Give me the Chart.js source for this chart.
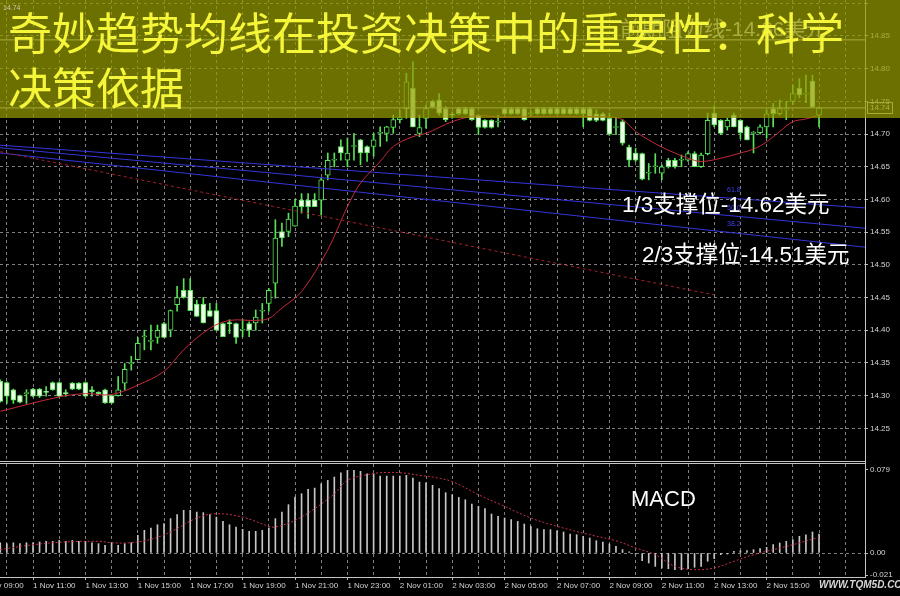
<!DOCTYPE html>
<html>
<head>
<meta charset="utf-8">
<script src="https://cdn.jsdelivr.net/npm/chart.js@4.4.1/dist/chart.umd.min.js"></script>
<style>
  html, body { margin: 0; padding: 0; background: #000; }
  #wrap { position: relative; width: 900px; height: 596px; overflow: hidden; background: #000; }
  #price { position: absolute; left: 0; top: 0; }
  #macd { position: absolute; left: 0; top: 464px; }
</style>
</head>
<body>
<div id="wrap">
  <canvas id="price" width="900" height="464"></canvas>
  <canvas id="macd" width="900" height="132"></canvas>
</div>
<script>
/* M15 candles, index 0 = 1 Nov 09:45 */
const opens = [14.322,14.320,14.309,14.300,14.303,14.310,14.310,14.306,14.320,14.320,
  14.304,14.319,14.319,14.320,14.309,14.305,14.309,14.300,14.300,14.319,
  14.349,14.355,14.390,14.383,14.389,14.410,14.400,14.439,14.461,14.461,
  14.440,14.440,14.430,14.430,14.410,14.411,14.410,14.400,14.410,14.411,
  14.429,14.441,14.472,14.551,14.551,14.559,14.599,14.599,14.599,14.599,
  14.637,14.660,14.681,14.660,14.681,14.691,14.681,14.681,14.701,14.701,
  14.710,14.722,14.739,14.770,14.701,14.724,14.750,14.752,14.739,14.730,
  14.739,14.739,14.739,14.729,14.721,14.721,14.718,14.739,14.739,14.739,
  14.739,14.731,14.739,14.739,14.739,14.739,14.739,14.739,14.739,14.739,
  14.739,14.731,14.731,14.724,14.710,14.719,14.680,14.671,14.670,14.640,
  14.650,14.640,14.660,14.660,14.660,14.660,14.670,14.650,14.670,14.732,
  14.721,14.711,14.729,14.721,14.711,14.701,14.702,14.711,14.739,14.731,
  14.737,14.750,14.770,14.761,14.781,14.729];
const highs = [14.324,14.321,14.310,14.301,14.309,14.311,14.311,14.314,14.321,14.321,
  14.309,14.320,14.320,14.321,14.314,14.306,14.310,14.301,14.329,14.349,
  14.360,14.389,14.400,14.408,14.408,14.412,14.431,14.467,14.479,14.479,
  14.446,14.450,14.441,14.441,14.411,14.416,14.411,14.416,14.413,14.431,
  14.441,14.464,14.569,14.564,14.579,14.600,14.609,14.609,14.609,14.633,
  14.671,14.671,14.691,14.694,14.701,14.692,14.682,14.701,14.711,14.712,
  14.729,14.737,14.793,14.811,14.729,14.744,14.752,14.762,14.742,14.734,
  14.741,14.741,14.741,14.730,14.722,14.722,14.729,14.741,14.741,14.741,
  14.741,14.736,14.741,14.741,14.741,14.741,14.741,14.741,14.741,14.741,
  14.741,14.737,14.733,14.732,14.724,14.722,14.683,14.678,14.671,14.655,
  14.670,14.653,14.663,14.663,14.668,14.673,14.673,14.671,14.732,14.743,
  14.722,14.724,14.732,14.722,14.712,14.704,14.714,14.737,14.747,14.752,
  14.750,14.775,14.785,14.790,14.790,14.742];
const lows = [14.290,14.288,14.288,14.289,14.288,14.298,14.297,14.299,14.308,14.298,
  14.299,14.309,14.309,14.298,14.299,14.302,14.288,14.288,14.299,14.309,
  14.339,14.355,14.370,14.370,14.380,14.389,14.390,14.429,14.449,14.430,
  14.421,14.411,14.421,14.400,14.390,14.395,14.380,14.390,14.390,14.400,
  14.411,14.429,14.449,14.528,14.543,14.559,14.579,14.571,14.589,14.576,
  14.630,14.650,14.660,14.650,14.660,14.653,14.658,14.666,14.681,14.689,
  14.701,14.717,14.724,14.711,14.696,14.709,14.740,14.729,14.719,14.724,
  14.730,14.730,14.721,14.699,14.709,14.709,14.711,14.730,14.730,14.730,
  14.721,14.727,14.730,14.730,14.730,14.730,14.730,14.730,14.730,14.711,
  14.720,14.719,14.720,14.698,14.699,14.683,14.650,14.658,14.630,14.630,
  14.640,14.630,14.648,14.648,14.650,14.658,14.650,14.649,14.668,14.711,
  14.699,14.706,14.711,14.693,14.691,14.671,14.700,14.694,14.711,14.729,
  14.722,14.745,14.755,14.748,14.741,14.711];
const closes = [14.291,14.299,14.293,14.290,14.304,14.299,14.299,14.305,14.309,14.299,
  14.303,14.310,14.310,14.299,14.306,14.303,14.289,14.289,14.309,14.340,
  14.350,14.380,14.391,14.384,14.400,14.389,14.430,14.450,14.450,14.430,
  14.421,14.411,14.421,14.400,14.390,14.410,14.389,14.401,14.400,14.420,
  14.430,14.461,14.541,14.541,14.570,14.590,14.589,14.589,14.589,14.630,
  14.660,14.661,14.671,14.671,14.682,14.671,14.671,14.691,14.702,14.711,
  14.722,14.725,14.780,14.711,14.710,14.739,14.741,14.732,14.722,14.729,
  14.731,14.731,14.722,14.710,14.710,14.710,14.719,14.731,14.731,14.731,
  14.722,14.732,14.731,14.731,14.731,14.731,14.731,14.731,14.731,14.731,
  14.721,14.721,14.721,14.700,14.711,14.686,14.660,14.660,14.631,14.641,
  14.651,14.650,14.650,14.650,14.661,14.670,14.650,14.668,14.721,14.714,
  14.701,14.721,14.711,14.702,14.691,14.702,14.711,14.731,14.731,14.739,
  14.738,14.762,14.760,14.762,14.741,14.740];

/* moving average (candle index, price) */
const maIdx  = [0, 9, 13, 16, 18, 21, 25, 28, 32, 35, 39, 41, 43, 46, 50, 53, 55, 58, 60, 63, 65, 67,
  69, 72, 74, 76, 84, 93, 95, 97, 99, 101, 103, 105, 107, 110, 113, 115, 117, 119, 121, 123, 125];
const maVals = [14.276, 14.298, 14.303, 14.301, 14.304, 14.316, 14.337, 14.370, 14.403, 14.415, 14.415,
  14.418, 14.434, 14.459, 14.523, 14.589, 14.625, 14.658, 14.681, 14.696, 14.701, 14.710, 14.719,
  14.727, 14.728, 14.726, 14.727, 14.726, 14.722, 14.704, 14.691, 14.680, 14.671, 14.663, 14.658,
  14.663, 14.671, 14.677, 14.688, 14.704, 14.719, 14.723, 14.729];

/* drawn objects */
const fibLevels = ['61.8', '50.0', '38.2'];
const fibStart = [14.683, 14.679, 14.671];
const fibEnd   = [14.587, 14.556, 14.527];
const trendIdx = [0, 109];
const trendVals = [14.673, 14.454];
const bidPrice = 14.74;
const resistPrice = 14.844;
const resistText = '前期阻力线-14.86美元';
const supportLabels = ['1/3支撑位-14.62美元', '2/3支撑位-14.51美元'];
const titleLines = ['奇妙趋势均线在投资决策中的重要性：科学', '决策依据'];

/* MACD window */
const macdHist = [.0098,.0089,.0098,.0089,.0098,.0098,.0105,.0111,.0111,.0120,
  .0111,.0120,.0111,.0111,.0098,.0089,.0073,.0098,.0073,.0089,
  .0098,.0168,.0216,.0238,.0269,.0279,.0327,.0365,.0406,.0406,
  .0390,.0384,.0365,.0342,.0301,.0269,.0247,.0225,.0206,.0206,
  .0216,.0238,.0327,.0390,.0460,.0533,.0564,.0605,.0618,.0659,
  .0691,.0723,.0764,.0786,.0786,.0777,.0754,.0754,.0732,.0732,
  .0732,.0732,.0739,.0713,.0675,.0669,.0644,.0612,.0574,.0555,
  .0529,.0507,.0466,.0444,.0422,.0371,.0349,.0333,.0317,.0301,
  .0276,.0254,.0231,.0222,.0222,.0212,.0200,.0181,.0174,.0159,
  .0143,.0117,.0105,.0086,.0063,.0032,.0010,-.0010,-.0073,-.0095,
  -.0127,-.0143,-.0149,-.0159,-.0159,-.0149,-.0136,-.0127,-.0079,-.0054,
  -.0016,-.0010,.0016,.0022,.0022,.0032,.0041,.0054,.0079,.0095,
  .0111,.0127,.0159,.0174,.0200,.0181];
const signalIdx  = [0, 5, 10, 15, 17, 20, 23, 26, 30, 33, 37, 41, 42, 45, 48, 51, 53, 56, 58, 61, 64, 66,
  69, 73, 77, 81, 85, 90, 94, 97, 100, 103, 106, 109, 112, 115, 118, 121, 125];
const signalVals = [.0032, .0079, .0105, .0111, .0098, .0098, .0130, .0200, .0333, .0374, .0342, .0254,
  .0247, .0311, .0422, .0564, .0691, .0745, .0764, .0764, .0739, .0723, .0680, .0555, .0444, .0333,
  .0254, .0174, .0117, .0048, -.0016, -.0127, -.0159, -.0143, -.0079, -.0016, .0032, .0079, .0149];

/* axes */
const priceTicks = [14.25, 14.30, 14.35, 14.40, 14.45, 14.50, 14.55, 14.60, 14.65, 14.70, 14.75, 14.80, 14.85, 14.90];
const macdTicks = [-0.021, 0, 0.079];
const timeTickIdx = [-3, 5, 13, 21, 29, 37, 45, 53, 61, 69, 77, 85, 93, 101, 109, 117];
const timeTickText = ['1 Nov 09:00', '1 Nov 11:00', '1 Nov 13:00', '1 Nov 15:00', '1 Nov 17:00',
  '1 Nov 19:00', '1 Nov 21:00', '1 Nov 23:00', '2 Nov 01:00', '2 Nov 03:00', '2 Nov 05:00',
  '2 Nov 07:00', '2 Nov 09:00', '2 Nov 11:00', '2 Nov 13:00', '2 Nov 15:00'];

const X_MIN = -0.04, X_MAX = 132.02;
const GRID = 'rgba(170,170,170,0.75)';
const FRAME = '#c4c4c4';
const CANDLE = '#58e258';
const LBL = '#d4d4d4';
const SANS = '"Liberation Sans", "Noto Sans CJK SC", sans-serif';

// vertical grid every hour (4 candles)
const gridIdx = [];
for (let i = 1; i <= 129; i += 4) gridIdx.push(i);

Chart.defaults.font.family = SANS;

const xy = (xs, ys) => xs.map((x, k) => ({ x: x, y: ys[k] }));
const hline = v => [{ x: X_MIN, y: v }, { x: X_MAX, y: v }];

/* price window decorations */
const priceDeco = {
  id: 'priceDeco',
  afterDatasetsDraw(chart) {
    const ctx = chart.ctx, a = chart.chartArea, sx = chart.scales.x, sy = chart.scales.y;
    ctx.save();
    ctx.strokeStyle = FRAME;
    ctx.lineWidth = 1;
    ctx.beginPath();
    ctx.moveTo(a.right + 0.5, 0); ctx.lineTo(a.right + 0.5, 464);
    ctx.moveTo(0, 461.5); ctx.lineTo(a.right + 1, 461.5);
    ctx.moveTo(0, 463.5); ctx.lineTo(a.right + 1, 463.5);
    ctx.stroke();

    // faded resistance caption
    ctx.fillStyle = '#dcdcdc';
    ctx.font = '21px ' + SANS;
    ctx.textBaseline = 'middle';
    ctx.fillText(resistText, 620, 30);

    // bid price box
    const yb = Math.round(sy.getPixelForValue(bidPrice));
    ctx.strokeStyle = '#cfcfcf';
    ctx.strokeRect(a.right + 2.5, yb - 5.5, 25, 11);
    ctx.fillStyle = '#e0e0e0';
    ctx.font = '8px ' + SANS;
    ctx.fillText('14.74', a.right + 5, yb);

    // fibonacci level tags
    ctx.fillStyle = '#4040e8';
    ctx.font = '7px ' + SANS;
    const x0 = sx.getPixelForValue(X_MIN), x1 = sx.getPixelForValue(X_MAX);
    fibLevels.forEach((t, k) => {
      const y0 = sy.getPixelForValue(fibStart[k]), y1 = sy.getPixelForValue(fibEnd[k]);
      const ly = y0 + (y1 - y0) * (730 - x0) / (x1 - x0);
      ctx.fillText(t, 727, ly - 8);
    });
    ctx.restore();
  },
  afterDraw(chart) {
    const ctx = chart.ctx;
    ctx.save();
    ctx.fillStyle = 'rgba(150,155,0,0.72)';
    ctx.fillRect(0, 0, 900, 118);

    ctx.fillStyle = '#c8c8b0';
    ctx.font = '7px ' + SANS;
    ctx.textBaseline = 'middle';
    ctx.fillText('14.74', 3, 8);

    ctx.fillStyle = '#f5f53a';
    ctx.font = '44px "Noto Sans CJK SC", sans-serif';
    ctx.fillText(titleLines[0], 8, 33);
    ctx.fillText(titleLines[1], 8, 88);

    ctx.fillStyle = '#ffffff';
    ctx.font = '22.5px ' + SANS;
    ctx.fillText(supportLabels[0], 622, 206);
    ctx.fillText(supportLabels[1], 642, 256);
    ctx.restore();
  }
};

new Chart(document.getElementById('price'), {
  type: 'bar',
  data: {
    datasets: [
      {
        label: 'wick', order: 3, grouped: false, barThickness: 1,
        data: opens.map((o, i) => ({ x: i, y: [lows[i], highs[i]] })),
        backgroundColor: CANDLE
      },
      {
        label: 'body', order: 2, grouped: false, barThickness: 5, minBarLength: 1,
        data: opens.map((o, i) => ({ x: i, y: [o, closes[i]] })),
        backgroundColor: opens.map((o, i) => closes[i] >= o ? '#000000' : '#ecffe6'),
        borderColor: CANDLE, borderWidth: 1, borderSkipped: false
      },
      {
        type: 'line', label: 'MA', order: 1, data: xy(maIdx, maVals),
        borderColor: '#c8283c', borderWidth: 1, pointRadius: 0, tension: 0.35
      },
      {
        type: 'line', label: 'trend', order: 1, data: xy(trendIdx, trendVals),
        borderColor: '#a8202c', borderWidth: 1, borderDash: [3, 3], pointRadius: 0
      },
      {
        type: 'line', label: 'fib1', order: 1, data: [{ x: X_MIN, y: fibStart[0] }, { x: X_MAX, y: fibEnd[0] }],
        borderColor: '#3434dc', borderWidth: 1, pointRadius: 0
      },
      {
        type: 'line', label: 'fib2', order: 1, data: [{ x: X_MIN, y: fibStart[1] }, { x: X_MAX, y: fibEnd[1] }],
        borderColor: '#3434dc', borderWidth: 1, pointRadius: 0
      },
      {
        type: 'line', label: 'fib3', order: 1, data: [{ x: X_MIN, y: fibStart[2] }, { x: X_MAX, y: fibEnd[2] }],
        borderColor: '#3434dc', borderWidth: 1, pointRadius: 0
      },
      {
        type: 'line', label: 'bid', order: 1, data: hline(bidPrice),
        borderColor: '#c8c8c8', borderWidth: 1, pointRadius: 0
      },
      {
        type: 'line', label: 'resist', order: 1, data: hline(resistPrice),
        borderColor: '#d8d8d8', borderWidth: 1, pointRadius: 0
      }
    ]
  },
  options: {
    responsive: false, animation: false, devicePixelRatio: 1, events: [],
    layout: { padding: 0 },
    plugins: { legend: { display: false }, tooltip: { enabled: false }, title: { display: false } },
    scales: {
      x: {
        type: 'linear', min: X_MIN, max: X_MAX, offset: false,
        afterBuildTicks: s => { s.ticks = gridIdx.map(v => ({ value: v })); },
        afterFit: s => { s.height = 3; s.paddingLeft = 0; s.paddingRight = 0; },
        ticks: { display: false },
        grid: { color: GRID, drawTicks: false, offset: false },
        border: { display: false, dash: [3, 3] }
      },
      y: {
        position: 'right', min: 14.20, max: 14.905, beginAtZero: false,
        afterBuildTicks: s => { s.ticks = priceTicks.map(v => ({ value: v })); },
        afterFit: s => { s.width = 35; s.paddingTop = 0; s.paddingBottom = 0; },
        ticks: {
          color: LBL, padding: 2, font: { size: 8 },
          callback: v => v > 14.87 ? '' : v.toFixed(2)
        },
        grid: { color: GRID, tickColor: '#bdbdbd', tickLength: 3 },
        border: { display: false, dash: [3, 3] }
      }
    }
  },
  plugins: [priceDeco]
});

/* MACD window decorations */
const macdDeco = {
  id: 'macdDeco',
  afterDraw(chart) {
    const ctx = chart.ctx, a = chart.chartArea;
    ctx.save();
    ctx.strokeStyle = FRAME;
    ctx.lineWidth = 1;
    ctx.beginPath();
    ctx.moveTo(a.right + 0.5, 0); ctx.lineTo(a.right + 0.5, a.bottom + 1);
    ctx.moveTo(0, a.bottom + 0.5); ctx.lineTo(a.right + 1, a.bottom + 0.5);
    ctx.stroke();

    ctx.fillStyle = '#ffffff';
    ctx.font = '22px ' + SANS;
    ctx.textBaseline = 'middle';
    ctx.fillText('MACD', 631, 36);

    ctx.fillStyle = '#d8d8d8';
    ctx.font = 'italic bold 10px ' + SANS;
    ctx.fillText('WWW.TQM5D.COM', 819, 121);
    ctx.restore();
  }
};

new Chart(document.getElementById('macd'), {
  type: 'bar',
  data: {
    datasets: [
      {
        label: 'MACD', order: 2, grouped: false, barThickness: 1,
        data: macdHist.map((v, i) => ({ x: i, y: v })),
        backgroundColor: '#c6c6c6'
      },
      {
        type: 'line', label: 'Signal', order: 1, data: xy(signalIdx, signalVals),
        borderColor: '#c8304c', borderWidth: 1, borderDash: [2, 2], pointRadius: 0, tension: 0.35
      }
    ]
  },
  options: {
    responsive: false, animation: false, devicePixelRatio: 1, events: [],
    layout: { padding: 0 },
    plugins: { legend: { display: false }, tooltip: { enabled: false }, title: { display: false } },
    scales: {
      x: {
        type: 'linear', min: X_MIN, max: X_MAX, offset: false,
        afterBuildTicks: s => {
          s.ticks = [-3].concat(gridIdx).map(v => ({ value: v }));
        },
        afterFit: s => { s.height = 19; s.paddingLeft = 0; s.paddingRight = 0; },
        ticks: {
          align: 'start', autoSkip: false, maxRotation: 0, minRotation: 0,
          color: LBL, padding: 1, font: { size: 8 },
          callback: v => { const k = timeTickIdx.indexOf(v); return k >= 0 ? timeTickText[k] : ''; }
        },
        grid: {
          color: GRID, offset: false, tickLength: 3,
          tickColor: c => (c.tick && timeTickIdx.indexOf(c.tick.value) >= 0) ? '#bdbdbd' : 'rgba(0,0,0,0)'
        },
        border: { display: false, dash: [3, 3] }
      },
      y: {
        position: 'right', min: -0.02284, max: 0.08471, beginAtZero: false,
        afterBuildTicks: s => { s.ticks = macdTicks.map(v => ({ value: v })); },
        afterFit: s => { s.width = 35; s.paddingTop = 0; s.paddingBottom = 0; },
        ticks: {
          color: LBL, padding: 2, font: { size: 8 },
          callback: v => v === 0 ? '0.00' : v.toFixed(3)
        },
        grid: {
          color: c => (c.tick && c.tick.value === 0) ? GRID : 'rgba(0,0,0,0)',
          tickColor: '#bdbdbd', tickLength: 3
        },
        border: { display: false, dash: [3, 3] }
      }
    }
  },
  plugins: [macdDeco]
});
</script>
</body>
</html>
